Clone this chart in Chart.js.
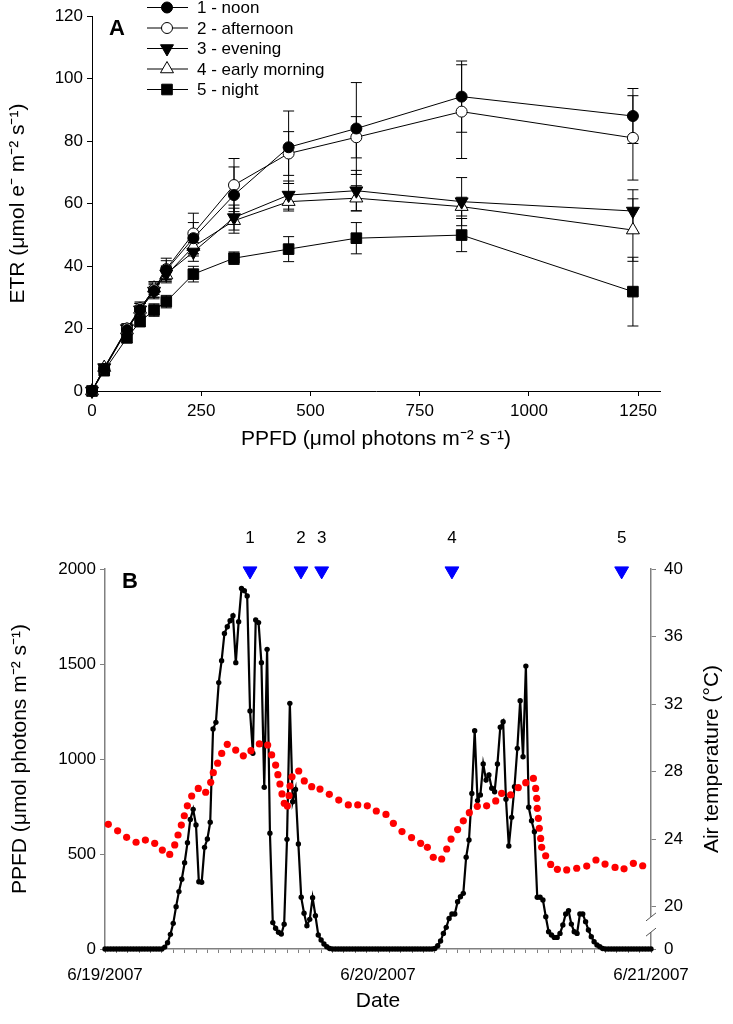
<!DOCTYPE html>
<html>
<head>
<meta charset="utf-8">
<script src="https://cdn.jsdelivr.net/npm/chart.js@4.4.0/dist/chart.umd.min.js"></script>
<style>
  html, body { margin: 0; padding: 0; background: #fff; }
  #boxA { position: absolute; left: 0; top: 0; width: 733px; height: 460px; }
  #boxB { position: absolute; left: 0; top: 460px; width: 733px; height: 564px; }
</style>
</head>
<body>
<div id="boxA"><canvas id="panelA" width="733" height="460"></canvas></div>
<div id="boxB"><canvas id="panelB" width="733" height="564"></canvas></div>
<script>
// ---- panel A: light curves ----
const lightSteps = [0, 28, 80, 110, 142, 170, 232, 325, 450, 605, 846, 1238];
const lightTicks = [0, 250, 500, 750, 1000, 1250];

const etrNoon      = [0, 7.0, 19.5, 26.0, 32.0, 38.7, 48.9, 62.7, 78.0, 84.0, 94.2, 88.0];
const etrAfternoon = [0, 7.0, 20.0, 26.5, 32.5, 39.0, 50.4, 65.9, 76.0, 81.2, 89.4, 81.0];
const etrEvening   = [0, 7.5, 20.0, 26.0, 32.0, 37.5, 44.5, 55.5, 62.7, 64.1, 60.6, 57.6];
const etrMorning   = [0, 7.5, 19.5, 26.1, 32.9, 37.1, 46.2, 54.5, 60.6, 61.7, 59.0, 51.5];
const etrNight     = [0, 6.5, 17.0, 22.2, 25.9, 28.6, 37.4, 42.5, 45.4, 48.9, 49.9, 31.8];

const seNoon      = [0, 1, 1.5, 2, 2.5, 3, 5, 9, 11.6, 14.7, 11.4, 8.8];
const seAfternoon = [0, 1, 1.5, 2, 2.5, 3.5, 6.5, 8.5, 7, 6.6, 15, 13.5];
const seEvening   = [0, 1, 1.5, 2, 2, 2.5, 3, 4, 4.5, 6.5, 7.7, 6.8];
const seMorning   = [0, 1, 1.5, 2, 2, 2.5, 3, 4, 3, 4, 3, 10];
const seNight     = [0, 1, 1.5, 1.5, 2, 2, 2.5, 2, 4, 5, 5.3, 11];

const curveLabels = ['1 - noon', '2 - afternoon', '3 - evening', '4 - early morning', '5 - night'];

// ---- panel B: PPFD every 15 min from 6/19 00:00, air temperature ----
const ppfd = [
  0,0,0,0,0,0,0,0,0,0,0,0,0,0,0,0,0,0,0,0,0,
  10,33,77,135,223,302,367,454,559,682,735,653,354,351,535,579,667,
  1158,1193,1402,1517,1661,1696,1728,1754,1507,1723,1898,1886,1858,1253,
  1030,1732,1718,1507,851,1577,609,139,109,88,79,130,577,1293,775,840,
  553,272,188,123,156,270,175,74,47,26,12,3,
  0,0,0,0,0,0,0,0,0,0,0,0,0,0,0,0,0,0,0,0,0,0,0,0,0,0,0,0,0,0,0,0,0,0,0,0,
  3,17,42,82,114,161,184,184,249,275,293,483,574,819,1149,781,811,974,889,
  916,846,828,974,1167,1196,788,542,693,854,1056,1307,1012,1489,746,675,617,
  272,272,258,170,91,74,61,61,82,126,184,202,131,91,82,184,184,144,100,65,
  38,21,12,3,
  0,0,0,0,0,0,0,0,0,0,0,0,0,0,0,0,0
];
const ppfdStepHours = 0.25;

const tempHours = [0.29,1.11,1.9,2.73,3.55,4.37,5.04,5.69,6.13,6.42,6.71,6.97,7.24,7.62,8.2,8.85,
  9.29,9.52,9.9,10.26,10.75,11.49,12.16,12.83,13.57,14.3,14.65,15.0,15.2,15.38,15.56,15.76,16.03,
  16.18,16.26,16.44,17.03,17.52,18.17,18.9,19.72,20.55,21.39,22.22,23.06,23.85,24.7,25.35,26.11,
  26.95,27.75,28.34,28.86,29.6,30.04,30.42,31.0,31.5,32.03,32.73,33.55,34.35,34.87,35.66,36.33,
  36.99,37.66,37.86,37.95,38.0,38.1,38.18,38.3,38.39,38.74,39.18,39.77,40.59,41.47,42.35,43.16,
  43.96,44.84,45.63,46.45,47.27];
const tempValues = [24.88,24.5,24.11,23.82,23.95,23.76,23.36,23.1,23.66,24.25,24.84,25.39,25.98,26.56,27.01,26.78,
  27.37,27.94,28.5,29.08,29.62,29.28,28.94,29.24,29.64,29.58,28.99,28.39,27.82,27.27,26.68,26.13,25.97,
  26.58,27.15,27.7,28.04,27.45,27.11,26.97,26.66,26.32,26.03,26.03,25.98,25.67,25.47,24.94,24.45,
  24.1,23.76,23.52,22.93,22.83,23.42,24.01,24.57,25.09,25.57,25.95,25.98,26.27,26.72,26.62,27.05,
  27.35,27.6,27.01,26.42,25.83,25.24,24.65,24.05,23.52,23.02,22.51,22.22,22.18,22.28,22.41,22.77,
  22.53,22.33,22.25,22.57,22.43];

const sampleHours = [12.75, 17.23, 19.05, 30.5, 45.42];
const sampleLabels = ['1', '2', '3', '4', '5'];
const dateLabels = ['6/19/2007', '6/20/2007', '6/21/2007'];
const tempTicks = [20, 24, 28, 32, 36, 40];
const tempFloor = 17.5;   // drawn as "0" below the axis break
const tempTitle = 'Air temperature (°C)';

Chart.defaults.font.family = '"Liberation Sans", Arial, sans-serif';
Chart.defaults.color = '#000';
const FONT = '"Liberation Sans", Arial, sans-serif';

const seriesStyles = [
  { style: 'circle',   fill: '#000', radius: 5.5, rot: 0 },
  { style: 'circle',   fill: '#fff', radius: 5.5, rot: 0 },
  { style: 'triangle', fill: '#000', radius: 7.5, rot: 180 },
  { style: 'triangle', fill: '#fff', radius: 7.5, rot: 0 },
  { style: 'rect',     fill: '#000', radius: 7.5, rot: 0 }
];
const etrSets = [etrNoon, etrAfternoon, etrEvening, etrMorning, etrNight];
const seSets = [seNoon, seAfternoon, seEvening, seMorning, seNight];

const errorBars = {
  id: 'errorBars',
  beforeDatasetsDraw(chart) {
    const { ctx, scales: { x, y } } = chart;
    ctx.save();
    ctx.strokeStyle = '#000';
    ctx.lineWidth = 1;
    chart.data.datasets.forEach(ds => {
      ds.data.forEach((p, i) => {
        const e = ds.se[i];
        if (!e) return;
        const px = x.getPixelForValue(p.x);
        const top = y.getPixelForValue(p.y + e);
        const bot = y.getPixelForValue(p.y - e);
        ctx.beginPath();
        ctx.moveTo(px, top); ctx.lineTo(px, bot);
        ctx.moveTo(px - 5.5, top); ctx.lineTo(px + 5.5, top);
        ctx.moveTo(px - 5.5, bot); ctx.lineTo(px + 5.5, bot);
        ctx.stroke();
      });
    });
    ctx.restore();
  }
};

const legendA = {
  id: 'legendA',
  afterDraw(chart) {
    const ctx = chart.ctx;
    ctx.save();
    chart.data.datasets.forEach((ds, i) => {
      const y = 7.5 + i * 20.5;
      ctx.strokeStyle = '#000';
      ctx.lineWidth = 1;
      ctx.beginPath(); ctx.moveTo(147, y); ctx.lineTo(188, y); ctx.stroke();
      ctx.fillStyle = ds.pointBackgroundColor;
      Chart.helpers.drawPoint(ctx, { pointStyle: ds.pointStyle, rotation: ds.pointRotation,
        radius: ds.pointRadius, borderWidth: 1 }, 167, y);
      ctx.fillStyle = '#000';
      ctx.font = '17px ' + FONT;
      ctx.textBaseline = 'middle';
      ctx.fillText(ds.label, 197, y + 1);
    });
    ctx.font = 'bold 22px ' + FONT;
    ctx.textBaseline = 'middle';
    ctx.fillText('A', 109, 29);
    ctx.restore();
  }
};

new Chart(document.getElementById('panelA'), {
  type: 'line',
  data: {
    datasets: etrSets.map((vals, k) => ({
      label: curveLabels[k],
      data: lightSteps.map((x, i) => ({ x, y: vals[i] })),
      se: seSets[k],
      borderColor: '#000',
      borderWidth: 1,
      pointStyle: seriesStyles[k].style,
      pointRotation: seriesStyles[k].rot,
      pointRadius: seriesStyles[k].radius,
      pointBackgroundColor: seriesStyles[k].fill,
      pointBorderColor: '#000',
      pointBorderWidth: 1,
      clip: false
    }))
  },
  options: {
    responsive: false,
    animation: false,
    layout: { padding: { top: 16, right: 73, left: 0, bottom: 0 } },
    plugins: { legend: { display: false }, tooltip: { enabled: false } },
    scales: {
      x: {
        type: 'linear', min: 0, max: 1300,
        afterBuildTicks: s => { s.ticks = lightTicks.map(v => ({ value: v })); },
        afterFit: s => { s.height = 69; },
        ticks: { autoSkip: false, font: { size: 17 }, padding: 5, maxRotation: 0, callback: v => String(v) },
        grid: { drawOnChartArea: false, tickLength: 5, color: '#000' },
        border: { color: '#000', width: 1 },
        title: { display: true, text: 'PPFD (μmol photons m⁻² s⁻¹)', font: { size: 21 }, padding: { top: 2, bottom: 8 } }
      },
      y: {
        min: 0, max: 120,
        afterFit: s => { s.width = 92; },
        ticks: { stepSize: 20, font: { size: 17 }, padding: 4, callback: v => String(v) },
        grid: { drawOnChartArea: false, tickLength: 5, color: '#000' },
        border: { color: '#000', width: 1 },
        title: { display: true, text: 'ETR (μmol e⁻ m⁻² s⁻¹)', font: { size: 21 }, padding: { top: 6, bottom: 2 } }
      }
    }
  },
  plugins: [errorBars, legendA]
});

const decorB = {
  id: 'decorB',
  afterDraw(chart) {
    const ctx = chart.ctx;
    const y2 = chart.scales.y2;
    const ax = y2.left;
    ctx.save();
    // axis break on the temperature axis
    const yA = y2.getPixelForValue(19.4), yB = y2.getPixelForValue(18.5);
    ctx.fillStyle = '#fff';
    ctx.fillRect(ax - 2, yA, 4, yB - yA);
    ctx.strokeStyle = '#555';
    ctx.lineWidth = 1;
    ctx.beginPath();
    ctx.moveTo(ax - 5, yA + 4); ctx.lineTo(ax + 5, yA - 4);
    ctx.moveTo(ax - 5, yB + 4); ctx.lineTo(ax + 5, yB - 4);
    ctx.stroke();
    // right axis title, reading bottom-to-top
    ctx.fillStyle = '#000';
    ctx.font = '21px ' + FONT;
    ctx.textAlign = 'center';
    ctx.textBaseline = 'middle';
    ctx.translate(712, (y2.top + y2.bottom) / 2);
    ctx.rotate(-Math.PI / 2);
    ctx.fillText(tempTitle, 0, 0);
    ctx.setTransform(1, 0, 0, 1, 0, 0);
    // sample labels above the blue markers
    const meta = chart.getDatasetMeta(0);
    ctx.font = '17px ' + FONT;
    meta.data.forEach((pt, i) => ctx.fillText(sampleLabels[i], pt.x, pt.y - 33));
    ctx.textAlign = 'left';
    ctx.font = 'bold 22px ' + FONT;
    ctx.fillText('B', 122, 122);
    ctx.restore();
  }
};

const axisGray = '#808080';

new Chart(document.getElementById('panelB'), {
  type: 'scatter',
  data: {
    datasets: [
      {
        label: 'samples',
        data: sampleHours.map(h => ({ x: h, y: 1990 })),
        pointStyle: 'triangle', pointRotation: 180, pointRadius: 8,
        backgroundColor: '#0000ff', borderColor: '#0000ff', borderWidth: 1,
        yAxisID: 'y', clip: false
      },
      {
        label: 'Air temperature',
        data: tempHours.map((h, i) => ({ x: h, y: tempValues[i] })),
        pointRadius: 3.6, backgroundColor: '#ff0000', borderWidth: 0,
        yAxisID: 'y2', clip: false
      },
      {
        label: 'PPFD',
        data: ppfd.map((v, i) => ({ x: i * ppfdStepHours, y: v })),
        showLine: true, borderColor: '#000', borderWidth: 2.2,
        pointRadius: 2.7, backgroundColor: '#000', pointBorderWidth: 0,
        yAxisID: 'y', clip: false
      }
    ]
  },
  options: {
    responsive: false,
    animation: false,
    layout: { padding: { top: 109, right: 0, left: 0, bottom: 0 } },
    plugins: { legend: { display: false }, tooltip: { enabled: false } },
    scales: {
      x: {
        type: 'linear', min: 0, max: 48,
        afterFit: s => { s.height = 75; },
        ticks: {
          stepSize: 1, autoSkip: false, maxRotation: 0, font: { size: 17 }, padding: 12,
          callback: v => (v % 24 === 0 ? dateLabels[v / 24] : '')
        },
        grid: { drawOnChartArea: false, tickLength: 4, color: axisGray },
        border: { color: axisGray, width: 1.5 },
        title: { display: true, text: 'Date', font: { size: 21 }, padding: { top: 0, bottom: 10 } }
      },
      y: {
        position: 'left', min: 0, max: 2000,
        afterFit: s => { s.width = 105; },
        ticks: { stepSize: 500, font: { size: 17 }, padding: 4, callback: v => String(v) },
        grid: { drawOnChartArea: false, tickLength: 5, color: axisGray },
        border: { color: axisGray, width: 1.5 },
        title: { display: true, text: 'PPFD (μmol photons m⁻² s⁻¹)', font: { size: 21 }, padding: { top: 8, bottom: 2 } }
      },
      y2: {
        position: 'right', min: tempFloor, max: 40,
        afterFit: s => { s.width = 82; },
        afterBuildTicks: s => { s.ticks = [tempFloor].concat(tempTicks).map(v => ({ value: v })); },
        ticks: { font: { size: 17 }, padding: 8, callback: v => (v === tempFloor ? '0' : String(v)) },
        grid: { drawOnChartArea: false, tickLength: 5, color: axisGray },
        border: { color: axisGray, width: 1.5 },
        title: { display: false }
      }
    }
  },
  plugins: [decorB]
});
</script>
</body>
</html>
